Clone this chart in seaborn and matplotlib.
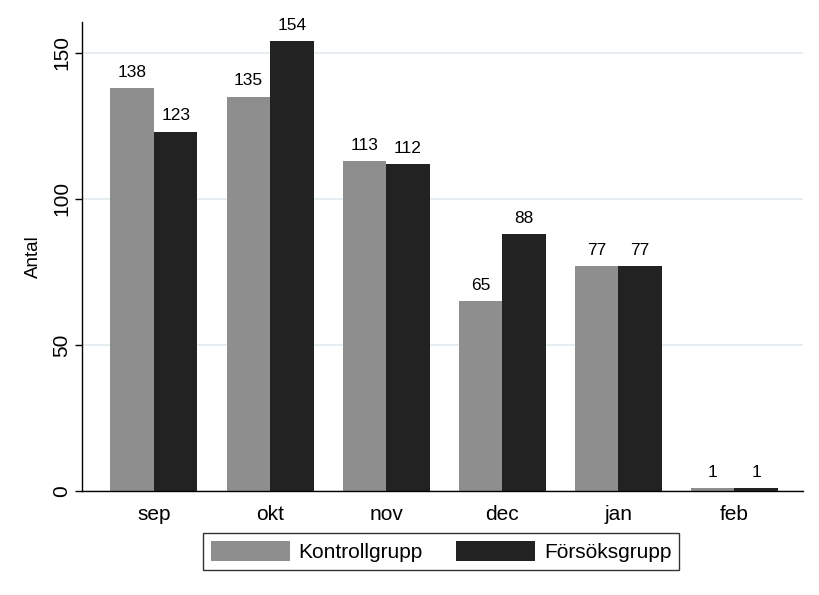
import pandas as pd
import matplotlib
matplotlib.use("Agg")
import matplotlib.pyplot as plt
import seaborn as sns

months = ["sep", "okt", "nov", "dec", "jan", "feb"]
kontroll = [138, 135, 113, 65, 77, 1]
forsok = [123, 154, 112, 88, 77, 1]
groups = ["Kontrollgrupp", "Försöksgrupp"]

df = pd.DataFrame({
    "month": months * 2,
    "grupp": [groups[0]] * len(months) + [groups[1]] * len(months),
    "antal": kontroll + forsok,
})

sns.set_style("white")
plt.rcParams["font.family"] = ["Liberation Sans", "DejaVu Sans"]
plt.rcParams["text.color"] = "black"
plt.rcParams["xtick.color"] = "black"
plt.rcParams["ytick.color"] = "black"
plt.rcParams["axes.labelcolor"] = "black"

fig = plt.figure(figsize=(8.2, 5.95), dpi=100)
ax = fig.add_axes([0.1, 0.175, 0.879, 0.788])

sns.barplot(data=df, x="month", y="antal", hue="grupp", order=months,
            hue_order=groups, palette=["#8e8e8e", "#222222"],
            width=0.75, gap=0, saturation=1, errorbar=None, ax=ax,
            edgecolor="none", linewidth=0)

for cont in ax.containers:
    ax.bar_label(cont, padding=6, fontsize=12.5, color="black")

ax.set_ylim(0, 160.6)
ax.set_xlim(-0.62, 5.59)
ax.set_yticks([0, 50, 100, 150])
ax.set_yticklabels(["0", "50", "100", "150"], rotation=90, va="center")
ax.yaxis.grid(True, color="#e3ebef", linewidth=1.2)
ax.set_axisbelow(True)
ax.tick_params(axis="y", left=True, length=5, width=1, color="black",
               labelsize=15, pad=3)
ax.tick_params(axis="x", bottom=False, labelsize=15, pad=7)
ax.set_xlabel("")
ax.set_ylabel("Antal", fontsize=13.5, labelpad=7)
for s in ["top", "right"]:
    ax.spines[s].set_visible(False)
for s in ["left", "bottom"]:
    ax.spines[s].set_color("black")
    ax.spines[s].set_linewidth(1)

ax.legend_.remove()
handles, labels = ax.get_legend_handles_labels()
leg = fig.legend(handles, labels, loc="center", bbox_to_anchor=(0.538, 0.073),
                 ncol=2, fontsize=15, frameon=True, fancybox=False,
                 edgecolor="black", handlelength=3.8, handleheight=1.05,
                 columnspacing=1.6, handletextpad=0.4, borderpad=0.4)
leg.get_frame().set_linewidth(1)

fig.savefig("out.png", dpi=100)
